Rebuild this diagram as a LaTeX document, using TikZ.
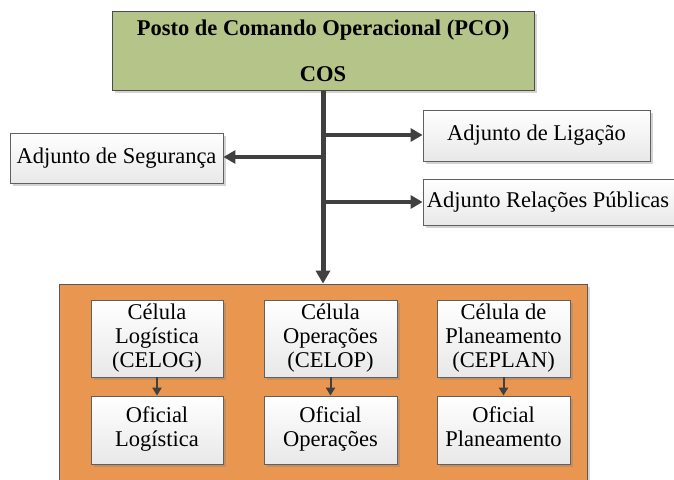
\documentclass[tikz,border=0pt]{standalone}
\usepackage{fontspec}
\setmainfont{Liberation Serif}
\usetikzlibrary{arrows.meta,shadows}
\definecolor{pcogreen}{RGB}{181,196,136}
\definecolor{celorange}{RGB}{233,150,80}
\definecolor{linegray}{RGB}{64,64,64}
\tikzset{
  whitebox/.style={draw=gray!75!black, line width=0.8pt, top color=white, bottom color=gray!18,
    drop shadow={shadow xshift=2.5pt, shadow yshift=-2.5pt, opacity=0.35, fill=gray},
    inner sep=0pt, align=center, font=\fontsize{22.5}{24}\selectfont},
  trunk/.style={line width=5pt, draw=linegray, -{Triangle[length=13pt,width=14pt]}},
  branch/.style={line width=4pt, draw=linegray, -{Triangle[length=12pt,width=13pt]}},
  small/.style={line width=2pt, draw=linegray, -{Triangle[length=8pt,width=9pt]}},
}
\begin{document}
\begin{tikzpicture}[x=1pt,y=-1pt]
\useasboundingbox (0,0) rectangle (674,479);
% top box
\node[draw=gray!60!black, line width=0.8pt, fill=pcogreen, minimum width=422pt, minimum height=79pt,
  drop shadow={shadow xshift=2.5pt, shadow yshift=-2.5pt, opacity=0.35, fill=gray},
  inner sep=0pt, align=center, font=\fontsize{22.5}{24}\selectfont\bfseries]
  (pco) at (323,51) {Posto de Comando Operacional (PCO)\\[22pt]COS};
% orange container
\node[draw=gray!70!black, line width=0.8pt, fill=celorange, minimum width=528pt, minimum height=201pt,
  drop shadow={shadow xshift=2.5pt, shadow yshift=-2.5pt, opacity=0.35, fill=gray}]
  (cel) at (323,384.5) {};
% side boxes
\node[whitebox, minimum width=213pt, minimum height=50pt] (seg) at (116.5,158) {Adjunto de Segurança};
\node[whitebox, minimum width=227pt, minimum height=51pt] (lig) at (536.5,135.5) {Adjunto de Ligação};
\node[whitebox, minimum width=255pt, minimum height=46pt] (rp) at (550.5,202) {\hspace*{-5pt}Adjunto Relações Públicas};
% cells
\node[whitebox, minimum width=132pt, minimum height=77pt] (celog) at (157,338.5) {\strut Célula\\Logística\\(CELOG)\strut};
\node[whitebox, minimum width=133pt, minimum height=77pt] (celop) at (330.5,338.5) {\strut Célula\\Operações\\(CELOP)\strut};
\node[whitebox, minimum width=133pt, minimum height=77pt] (ceplan) at (503.5,338.5) {\strut Célula de\\Planeamento\\(CEPLAN)\strut};
\node[whitebox, minimum width=132pt, minimum height=68pt] (oflog) at (157,430) {\strut Oficial\\Logística\strut};
\node[whitebox, minimum width=133pt, minimum height=68pt] (ofop) at (330.5,430) {\strut Oficial\\Operações\strut};
\node[whitebox, minimum width=133pt, minimum height=68pt] (ofplan) at (503.5,430) {\strut Oficial\\Planeamento\strut};
% connectors
\coordinate (j1) at (323,135);
\coordinate (j2) at (323,157);
\coordinate (j3) at (323,202);
\draw[trunk] (pco.south) -- (cel.north);
\draw[branch] (j1) -- (j1 -| lig.west);
\draw[branch] (j2) -- (j2 -| seg.east);
\draw[branch] (j3) -- (j3 -| rp.west);
\draw[small] (celog) -- (oflog);
\draw[small] (celop) -- (ofop);
\draw[small] (ceplan) -- (ofplan);
\end{tikzpicture}
\end{document}
